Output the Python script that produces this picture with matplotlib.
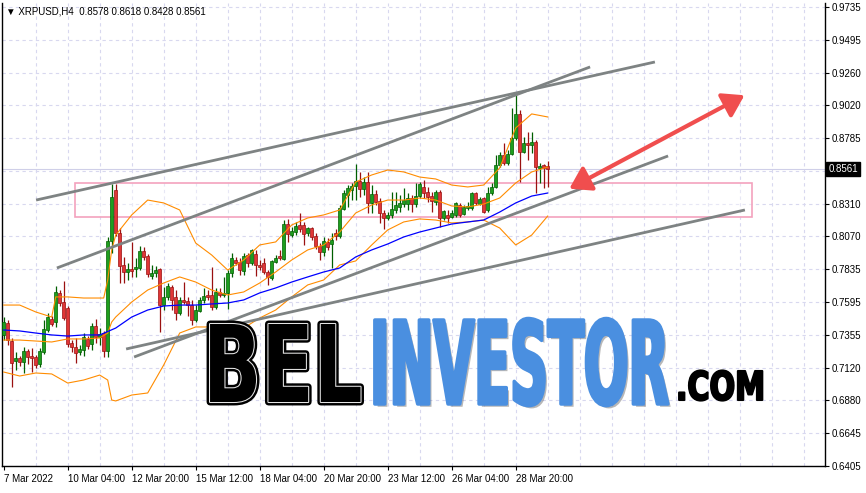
import numpy as np
import matplotlib
matplotlib.use('Agg')
import matplotlib.pyplot as plt
from matplotlib import patheffects as pe
from matplotlib.patches import Rectangle, FancyArrowPatch
from matplotlib.transforms import Affine2D

# XRPUSD H4, 137 candles
opens = [0.7355, 0.7442, 0.7311, 0.7166, 0.7188, 0.7159, 0.7239, 0.7202, 0.7195, 0.7144,
         0.7231, 0.7391, 0.7471, 0.7449, 0.7660, 0.7594, 0.7551, 0.7297, 0.7268, 0.7231,
         0.7246, 0.7326, 0.7289, 0.7420, 0.7340, 0.7369, 0.7239, 0.8037, 0.8407, 0.8095,
         0.7862, 0.7812, 0.7834, 0.7834, 0.7841, 0.7964, 0.7928, 0.7783, 0.7805, 0.7834,
         0.7572, 0.7630, 0.7703, 0.7630, 0.7514, 0.7609, 0.7601, 0.7572, 0.7464, 0.7529,
         0.7609, 0.7645, 0.7645, 0.7558, 0.7667, 0.7645, 0.7660, 0.7805, 0.7899, 0.7884,
         0.7819, 0.7935, 0.7877, 0.7943, 0.7862, 0.7877, 0.7812, 0.7768, 0.7884, 0.7928,
         0.7906, 0.8160, 0.8080, 0.8102, 0.8153, 0.8153, 0.8095, 0.8131, 0.8073, 0.8001,
         0.7957, 0.8030, 0.8015, 0.8095, 0.8073, 0.8269, 0.8371, 0.8407, 0.8436, 0.8472,
         0.8414, 0.8465, 0.8313, 0.8378, 0.8327, 0.8240, 0.8204, 0.8226, 0.8262, 0.8284,
         0.8305, 0.8305, 0.8349, 0.8305, 0.8363, 0.8429, 0.8393, 0.8363, 0.8320, 0.8393,
         0.8204, 0.8226, 0.8211, 0.8226, 0.8298, 0.8233, 0.8276, 0.8276, 0.8385, 0.8305,
         0.8349, 0.8262, 0.8385, 0.8429, 0.8588, 0.8661, 0.8603, 0.8668, 0.8784, 0.8958,
         0.8683, 0.8748, 0.8734, 0.8755, 0.8566, 0.8588, 0.8578]
highs = [0.7485, 0.7464, 0.7333, 0.7231, 0.7202, 0.7268, 0.7253, 0.7260, 0.7210, 0.7260,
         0.7464, 0.7514, 0.7493, 0.7710, 0.7681, 0.7747, 0.7565, 0.7319, 0.7333, 0.7282,
         0.7369, 0.7348, 0.7442, 0.7471, 0.7406, 0.7384, 0.8066, 0.8451, 0.8451, 0.8131,
         0.7921, 0.7877, 0.8030, 0.7913, 0.8001, 0.7993, 0.7943, 0.7862, 0.7855, 0.7841,
         0.7703, 0.7732, 0.7718, 0.7681, 0.7630, 0.7739, 0.7630, 0.7609, 0.7572, 0.7630,
         0.7696, 0.7681, 0.7848, 0.7696, 0.7696, 0.7776, 0.7826, 0.7950, 0.7921, 0.7913,
         0.7950, 0.7950, 0.7979, 0.7972, 0.7899, 0.7913, 0.7826, 0.7899, 0.7935, 0.7972,
         0.8189, 0.8197, 0.8138, 0.8175, 0.8240, 0.8175, 0.8138, 0.8138, 0.8095, 0.8022,
         0.8066, 0.8059, 0.8095, 0.8124, 0.8298, 0.8407, 0.8443, 0.8458, 0.8596, 0.8538,
         0.8501, 0.8538, 0.8443, 0.8407, 0.8349, 0.8262, 0.8247, 0.8393, 0.8393, 0.8371,
         0.8422, 0.8385, 0.8371, 0.8458, 0.8465, 0.8480, 0.8429, 0.8393, 0.8407, 0.8407,
         0.8262, 0.8262, 0.8262, 0.8320, 0.8313, 0.8298, 0.8320, 0.8393, 0.8393, 0.8356,
         0.8356, 0.8429, 0.8458, 0.8661, 0.8683, 0.8748, 0.8697, 0.9002, 0.9096, 0.8988,
         0.8792, 0.8828, 0.8828, 0.8770, 0.8603, 0.8596, 0.8618]
lows = [0.7319, 0.7282, 0.6977, 0.7101, 0.7130, 0.7079, 0.7144, 0.7086, 0.7115, 0.7123,
        0.7217, 0.7377, 0.7420, 0.7413, 0.7565, 0.7464, 0.7268, 0.7231, 0.7152, 0.7210,
        0.7202, 0.7253, 0.7246, 0.7297, 0.7282, 0.7195, 0.7195, 0.7950, 0.8073, 0.7732,
        0.7732, 0.7754, 0.7776, 0.7776, 0.7826, 0.7899, 0.7776, 0.7761, 0.7776, 0.7377,
        0.7536, 0.7609, 0.7536, 0.7464, 0.7500, 0.7580, 0.7493, 0.7427, 0.7449, 0.7522,
        0.7587, 0.7609, 0.7536, 0.7543, 0.7630, 0.7630, 0.7543, 0.7776, 0.7862, 0.7790,
        0.7790, 0.7848, 0.7862, 0.7783, 0.7826, 0.7797, 0.7717, 0.7754, 0.7877, 0.7899,
        0.7899, 0.8030, 0.8066, 0.8080, 0.8102, 0.8008, 0.8073, 0.8044, 0.7979, 0.7899,
        0.7928, 0.7972, 0.7841, 0.8044, 0.8059, 0.8262, 0.8284, 0.8334, 0.8334, 0.8356,
        0.8371, 0.8240, 0.8240, 0.8298, 0.8168, 0.8124, 0.8189, 0.8204, 0.8240, 0.8247,
        0.8284, 0.8262, 0.8247, 0.8284, 0.8349, 0.8349, 0.8320, 0.8247, 0.8298, 0.8138,
        0.8189, 0.8168, 0.8204, 0.8211, 0.8211, 0.8226, 0.8262, 0.8262, 0.8298, 0.8298,
        0.8240, 0.8247, 0.8371, 0.8422, 0.8573, 0.8588, 0.8588, 0.8661, 0.8770, 0.8465,
        0.8676, 0.8625, 0.8676, 0.8385, 0.8458, 0.8422, 0.8428]
closes = [0.7449, 0.7318, 0.7152, 0.7188, 0.7159, 0.7239, 0.7195, 0.7188, 0.7137, 0.7239,
          0.7398, 0.7485, 0.7435, 0.7667, 0.7587, 0.7478, 0.7289, 0.7268, 0.7224, 0.7253,
          0.7340, 0.7275, 0.7420, 0.7340, 0.7362, 0.7239, 0.8037, 0.8356, 0.8095, 0.7855,
          0.7812, 0.7834, 0.7819, 0.7848, 0.7964, 0.7921, 0.7797, 0.7805, 0.7826, 0.7572,
          0.7630, 0.7710, 0.7609, 0.7514, 0.7609, 0.7594, 0.7572, 0.7464, 0.7536, 0.7609,
          0.7638, 0.7630, 0.7558, 0.7667, 0.7645, 0.7660, 0.7805, 0.7913, 0.7877, 0.7826,
          0.7928, 0.7877, 0.7972, 0.7862, 0.7848, 0.7812, 0.7776, 0.7891, 0.7913, 0.7913,
          0.8160, 0.8088, 0.8109, 0.8146, 0.8124, 0.8088, 0.8131, 0.8066, 0.8001, 0.7957,
          0.8037, 0.7993, 0.8044, 0.8073, 0.8276, 0.8385, 0.8422, 0.8436, 0.8472, 0.8414,
          0.8465, 0.8313, 0.8378, 0.8320, 0.8240, 0.8204, 0.8226, 0.8269, 0.8298, 0.8313,
          0.8334, 0.8349, 0.8305, 0.8363, 0.8451, 0.8385, 0.8356, 0.8327, 0.8393, 0.8204,
          0.8254, 0.8204, 0.8240, 0.8313, 0.8226, 0.8284, 0.8291, 0.8385, 0.8313, 0.8342,
          0.8247, 0.8385, 0.8429, 0.8588, 0.8661, 0.8603, 0.8668, 0.8784, 0.8958, 0.8683,
          0.8748, 0.8734, 0.8755, 0.8573, 0.8581, 0.8566, 0.8561]

# Bollinger bands and moving average, sampled from the chart
bb_up_x = [0, 4, 8, 12, 13, 16, 20, 24, 25, 26, 27, 28, 32, 36, 40, 44, 48, 52, 56, 60,
           64, 68, 72, 76, 80, 84, 88, 92, 96, 100, 104, 108, 112, 116, 120, 124, 128, 132, 136]
bb_up = [0.7572, 0.7572, 0.7522, 0.7485, 0.7631, 0.7631, 0.7623, 0.7623, 0.7623, 0.7754,
         0.7972, 0.8080, 0.8226, 0.8334, 0.8313, 0.8262, 0.8022, 0.7935, 0.7826, 0.7899,
         0.8008, 0.8030, 0.8153, 0.8204, 0.8226, 0.8262, 0.8465, 0.8516, 0.8552, 0.8538,
         0.8501, 0.8487, 0.8443, 0.8429, 0.8443, 0.8567, 0.8857, 0.8959, 0.8937]
bb_mid_x = [0, 4, 8, 12, 16, 20, 24, 26, 27, 28, 32, 36, 40, 44, 48, 52, 56, 60, 64, 68,
            72, 76, 80, 84, 88, 92, 96, 100, 104, 108, 112, 116, 120, 124, 128, 132, 136]
bb_mid = [0.7318, 0.7318, 0.7311, 0.7304, 0.7326, 0.7326, 0.7333, 0.7369, 0.7449, 0.7485,
          0.7594, 0.7681, 0.7732, 0.7776, 0.7739, 0.7681, 0.7645, 0.7667, 0.7732, 0.7812,
          0.7899, 0.7972, 0.8008, 0.8102, 0.8240, 0.8298, 0.8334, 0.8334, 0.8349, 0.8334,
          0.8291, 0.8284, 0.8305, 0.8349, 0.8458, 0.8538, 0.8574]
bb_low = [0.7086, 0.7057, 0.7079, 0.7072, 0.7006, 0.7028, 0.7064, 0.7028, 0.6883, 0.6876,
          0.6919, 0.6934, 0.7137, 0.7369, 0.7413, 0.7413, 0.7398, 0.7405, 0.7478, 0.7536,
          0.7631, 0.7718, 0.7754, 0.7863, 0.7892, 0.8008, 0.8117, 0.8175, 0.8197, 0.8189,
          0.8168, 0.8175, 0.8189, 0.8131, 0.8008, 0.8080, 0.8218]
ma_x = list(range(0, 137, 4))
ma = [0.7391, 0.7384, 0.7369, 0.7355, 0.7347, 0.7355, 0.7355, 0.7405, 0.7485, 0.7536,
      0.7565, 0.7572, 0.7572, 0.7580, 0.7587, 0.7609, 0.7660, 0.7696, 0.7739, 0.7776,
      0.7812, 0.7841, 0.7921, 0.7972, 0.8015, 0.8066, 0.8102, 0.8131, 0.8160, 0.8175,
      0.8189, 0.8247, 0.8313, 0.8363, 0.8385]

# trend lines (bar index, price)
trend_x = [(8.1, 162.8), (13.3, 146.6), (30.6, 185.3), (32.6, 166.1)]
trend_y = [(0.8334, 0.9336), (0.7841, 0.9300), (0.7253, 0.8262), (0.7195, 0.8654)]

# zone and forecast arrow
zone_x = (17.8, 187.1)
zone_y = (0.8211, 0.8458)
arrow_from = (140.8, 0.8407)
arrow_to = (185.8, 0.9104)

last_price = 0.8561
ytick_labels = ['0.6405', '0.6645', '0.6880', '0.7120', '0.7355', '0.7595', '0.7835', '0.8070',
                '0.8310', '', '0.8785', '0.9020', '0.9260', '0.9495', '0.9735']
xtick_pos = [0, 16, 32, 48, 64, 80, 96, 112, 128]
xtick_labels = ['7 Mar 2022', '10 Mar 04:00', '12 Mar 20:00', '15 Mar 12:00', '18 Mar 04:00',
                '20 Mar 20:00', '23 Mar 12:00', '26 Mar 04:00', '28 Mar 20:00']

W, H = 866, 493
plt.rcParams['font.family'] = ['Liberation Sans', 'DejaVu Sans']

fig = plt.figure(figsize=(W / 100, H / 100), dpi=100)
ax = fig.add_axes([2 / W, (H - 466) / H, 823 / W, 463 / H])
ax.set_xlim(-0.425, 205.325)
ax.set_ylim(0.6404, 0.9764)

# grid
grid_kw = dict(color='#d8d8ef', lw=0.8, ls=(0, (3, 3)))
ax.set_yticks(np.linspace(0.6405, 0.9735, 15))
ax.set_yticklabels(ytick_labels)
ax.set_xticks(xtick_pos)
ax.set_xticklabels(xtick_labels, ha='left')
ax.xaxis.remove_overlapping_locs = False
ax.set_xticks(np.arange(8, 205, 8), minor=True)
ax.yaxis.grid(True, **grid_kw)
ax.xaxis.grid(True, which='minor', **grid_kw)
ax.set_axisbelow(True)

ax.yaxis.tick_right()
ax.tick_params(axis='y', length=3, width=0.8, pad=2, labelsize=7)
ax.tick_params(axis='x', which='major', length=3, width=0.8, pad=3, labelsize=7)
ax.tick_params(axis='x', which='minor', length=0)
for s in ['left', 'right', 'bottom']:
    ax.spines[s].set_color('black')
    ax.spines[s].set_linewidth(1)
ax.spines['top'].set_visible(False)

# zone rectangle
ax.add_patch(Rectangle((zone_x[0], zone_y[0]), zone_x[1] - zone_x[0], zone_y[1] - zone_y[0],
                       facecolor=(1, 1, 1, 0.4), edgecolor='#f3a2bd', lw=1.2, zorder=1))
ax.axhline(last_price, color='#cfcfe8', lw=0.8, zorder=1)

# candles
o = np.array(opens)
h = np.array(highs)
l = np.array(lows)
c = np.array(closes)
idx = np.arange(len(o))
up = c >= o
face = np.where(up, '#1e9e1e', '#e03636')
edge = np.where(up, '#005f00', '#9a1010')
ax.vlines(idx, l, h, colors=edge, lw=0.9, zorder=3)
ax.bar(idx, np.maximum(np.abs(c - o), 0.0004), bottom=np.minimum(o, c), width=0.7,
       color=face, edgecolor=edge, lw=0.5, zorder=4)

# indicators
ax.plot(bb_up_x, bb_up, color='#ff8c00', lw=0.8, zorder=5)
ax.plot(bb_mid_x, bb_mid, color='#ff8c00', lw=0.8, zorder=5)
ax.plot(bb_mid_x, bb_low, color='#ff8c00', lw=0.8, zorder=5)
ax.plot(ma_x, ma, color='#0000ff', lw=0.9, zorder=5)

# trend lines
for tx, ty in zip(trend_x, trend_y):
    ax.plot(tx, ty, color='#7e8383', lw=2.0, solid_capstyle='butt', zorder=6)

# forecast arrow (heads at both ends)
ax.add_patch(FancyArrowPatch(arrow_from, arrow_to,
                             arrowstyle='<|-|>,head_length=0.7,head_width=0.45',
                             mutation_scale=18, color='#f04e4e', lw=3, zorder=7))

# last price box
ax.text(1.004, last_price, f'{last_price:.4f}', transform=ax.get_yaxis_transform(),
        ha='left', va='center', color='white', fontsize=7, clip_on=False, zorder=10,
        bbox=dict(boxstyle='square,pad=0.22', fc='black', ec='black'))

# header
fig.text(6 / W, 1 - 11 / H, '\u25bc XRPUSD,H4  0.8578 0.8618 0.8428 0.8561',
         ha='left', va='center', fontsize=7, color='black')


# watermark: stretch glyphs vertically from the baseline for the condensed look
class Stretch(pe.AbstractPathEffect):
    def __init__(self, sy, inner=None):
        super().__init__()
        self.sy = sy
        self.inner = inner

    def draw_path(self, renderer, gc, tpath, affine, rgbFace=None):
        x0, y0 = affine.transform((0, 0))
        aff = affine + Affine2D().translate(-x0, -y0).scale(1, self.sy).translate(x0, y0)
        if self.inner is None:
            renderer.draw_path(gc, tpath, aff, rgbFace)
        else:
            self.inner.draw_path(renderer, gc, tpath, aff, rgbFace)


renderer = fig.canvas.get_renderer()


def logo(x0, x1, base, cap, s, color, effects):
    t = fig.text(x0 / W, 1 - base / H, s, fontsize=20, color=color, fontweight='bold',
                 family='DejaVu Sans', ha='left', va='baseline', zorder=20)
    w = t.get_window_extent(renderer).width
    size = 20 * (x1 - x0) / w
    t.set_fontsize(size)
    sy = cap / (0.729 * size * 100 / 72)
    t.set_path_effects([Stretch(sy, e) for e in effects])
    return t


logo(203, 362, 402, 78, 'BEL', 'black',
     [pe.Stroke(linewidth=5, foreground='black'), pe.Stroke(linewidth=1.5, foreground='#e6e6e6'), None])
logo(370, 668, 404, 84, 'INVESTOR', '#4a8fe0',
     [pe.SimplePatchShadow(offset=(2, -2), shadow_rgbFace='#333333', alpha=0.35),
      pe.Stroke(linewidth=2.5, foreground='#4a8fe0'), None])
logo(676, 765, 400, 29, '.COM', 'black', [pe.Stroke(linewidth=1.5, foreground='black'), None])

fig.savefig('out.png', dpi=100)
